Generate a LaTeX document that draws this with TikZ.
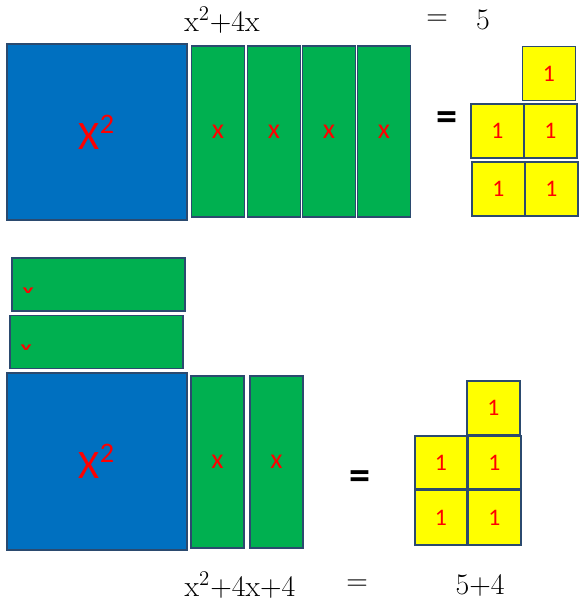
\documentclass[tikz,border=0pt]{standalone}
\usepackage{fontspec}
\newfontfamily\calibri{Carlito}
\usetikzlibrary{calc}

\begin{document}
\begin{tikzpicture}[x=0.02cm, y=-0.02cm]
    % Define unit length (one pixel)
    \def\u{0.02cm}

    \definecolor{borderColour}{HTML}{2B4A6F}
    \definecolor{squareColour}{HTML}{0070C0}
    \definecolor{stripColour}{HTML}{00B050}
    \definecolor{unitColour}{HTML}{FFFF00}
    \definecolor{labelColour}{HTML}{FF0000}

    \tikzset{
        tile/.style n args={3}{draw=borderColour, line width=1.1pt, fill=#1,
            minimum width=#2*\u, minimum height=#3*\u, inner sep=0pt,
            text=labelColour, font=\calibri\fontsize{16}{18}\selectfont},
        bigsq/.style={tile={squareColour}{180}{176}, font=\calibri\fontsize{23}{26}\selectfont},
        strip/.style={tile={stripColour}{53}{171}},
        flatstrip/.style={tile={stripColour}{173}{53}},
        unit/.style={tile={unitColour}{53}{54}, font=\calibri\fontsize{13.5}{16}\selectfont},
        eqn/.style={font=\fontsize{17}{20}\selectfont, inner sep=0pt},
        bigeq/.style={font=\calibri\bfseries\fontsize{24}{26}\selectfont, inner sep=0pt},
        cutlabel/.style={text=labelColour, font=\calibri\bfseries\fontsize{11}{12}\selectfont,
            inner sep=0pt, xscale=1.2, yscale=0.6}
    }

    % Fix the page size
    \useasboundingbox (0,0) rectangle (581,605);

    % Top equation
    \node[eqn] (topLhs) at (222,20) {x\textsuperscript{2}+4x};
    \node[eqn] (topEq) at (437,20) {=};
    \node[eqn] (topRhs) at (483,20) {5};

    % Draw x^2 and four x strips
    \node[bigsq] (sqA) at (97,132) {X\textsuperscript{2}};
    \foreach \i/\x in {1/218,2/274,3/329,4/384}
        \node[strip] (xA\i) at (\x,131.5) {x};
    \node[bigeq] (eqA) at (447,121) {=};

    % Draw five unit squares
    \node[unit] (oneA1) at (549,73.5) {1};
    \node[unit] (oneA2) at (497.5,131) {1};
    \node[unit] (oneA3) at (550.5,131) {1};
    \node[unit] (oneA4) at (498.5,189) {1};
    \node[unit] (oneA5) at (551.5,189) {1};

    % Two strips moved to the top of the square
    \node[flatstrip] (xB1) at (98.5,284.5) {};
    \node[flatstrip] (xB2) at (96.5,342) {};
    \node[cutlabel] (markB1) at (28,291) {v};
    \node[cutlabel] (markB2) at (26,348) {v};

    % Draw x^2 and the two remaining x strips
    \node[bigsq, minimum height=177*\u] (sqC) at (97,461.5) {X\textsuperscript{2}};
    \node[strip, minimum height=172*\u] (xC1) at (217.5,462) {x};
    \node[strip, minimum height=172*\u] (xC2) at (276.5,462) {x};
    \node[bigeq] (eqC) at (360,480) {=};

    % Draw the unit squares
    \node[unit] (oneC1) at (493.5,408) {1};
    \node[unit, minimum width=52*\u, minimum height=53*\u] (oneC2) at (441,462.5) {1};
    \node[unit, minimum height=53*\u] (oneC3) at (494.5,462.5) {1};
    \node[unit, minimum width=52*\u, minimum height=55*\u] (oneC4) at (441,517.5) {1};
    \node[unit, minimum height=55*\u] (oneC5) at (494.5,517.5) {1};

    % Bottom equation
    \node[eqn] (botLhs) at (240,585) {x\textsuperscript{2}+4x+4};
    \node[eqn] (botEq) at (357,585) {=};
    \node[eqn] (botRhs) at (480,585) {5+4};

\end{tikzpicture}
\end{document}
